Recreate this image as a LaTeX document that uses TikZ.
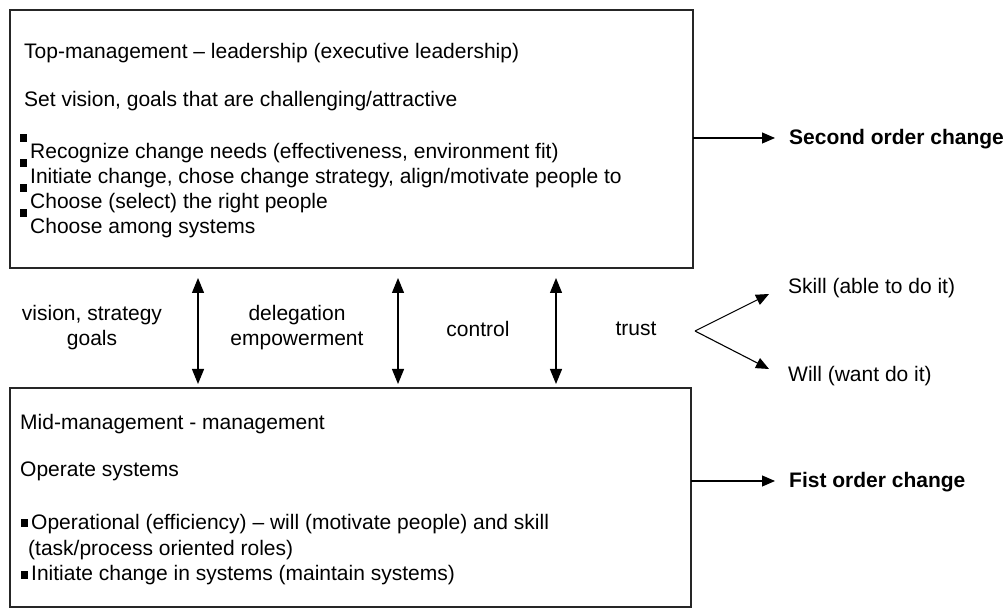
\documentclass[tikz,border=0pt]{standalone}
\usepackage{fontspec}
\setmainfont{Liberation Sans}
\usetikzlibrary{arrows.meta}
\begin{document}
\begin{tikzpicture}[x=1pt,y=-1pt,
  txt/.style={font=\fontsize{21}{25}\selectfont, inner sep=0pt, anchor=base west},
  ctxt/.style={font=\fontsize{21}{25}\selectfont, inner sep=0pt, align=center},
  btxt/.style={font=\fontsize{21}{25}\selectfont\bfseries, inner sep=0pt, anchor=base west},
  panel/.style={draw=black!85, line width=1.2pt, inner sep=0pt, outer sep=0pt, anchor=north west},
  sq/.style={fill=black, inner sep=0pt, minimum width=7pt, minimum height=8pt},
  dbl/.style={line width=1.2pt, {Triangle[length=15pt,width=12pt]}-{Triangle[length=15pt,width=12pt]}},
  one/.style={line width=1.1pt, -{Triangle[length=13pt,width=11pt]}}
]
\useasboundingbox (0,0) rectangle (1005,609);

% the two management levels
\node[panel, minimum width=683pt, minimum height=258pt] (top) at (10,10) {};
\node[panel, minimum width=681pt, minimum height=219pt] (mid) at (10,388) {};

% top-management text
\node[txt] (t1) at (24,59) {Top-management -- leadership (executive leadership)};
\node[txt] (t2) at (24,107) {Set vision, goals that are challenging/attractive};
\node[sq] (b1) at (23,138) {};
\node[sq] (b2) at (23,163) {};
\node[sq] (b3) at (23,188) {};
\node[sq] (b4) at (23,213) {};
\node[txt] (t3) at (30,159) {Recognize change needs (effectiveness, environment fit)};
\node[txt] (t4) at (30,184) {Initiate change, chose change strategy, align/motivate people to};
\node[txt] (t5) at (30,209) {Choose (select) the right people};
\node[txt] (t6) at (30,234) {Choose among systems};

% mid-management text
\node[txt] (m1) at (20,430) {Mid-management - management};
\node[txt] (m2) at (20,477) {Operate systems};
\node[sq] (c1) at (24,523) {};
\node[txt] (m3) at (31,530) {Operational (efficiency) -- will (motivate people) and skill};
\node[txt] (m4) at (28,556) {(task/process oriented roles)};
\node[sq] (c2) at (24,575) {};
\node[txt] (m5) at (31,581) {Initiate change in systems (maintain systems)};

% links between the levels
\coordinate (a1t) at (198,278); \coordinate (a1b) at (198,384);
\coordinate (a2t) at (398,278); \coordinate (a2b) at (398,384);
\coordinate (a3t) at (556,278); \coordinate (a3b) at (556,384);
\draw[dbl] (a1t) -- (a1b);
\draw[dbl] (a2t) -- (a2b);
\draw[dbl] (a3t) -- (a3b);
\node[ctxt] (l1) at (92,328) {vision, strategy\\goals};
\node[ctxt] (l2) at (297,328) {delegation\\empowerment};
\node[ctxt] (l3) at (478,329) {control};
\node[ctxt] (l4) at (636,329) {trust};

% trust splits into skill and will
\coordinate (tv) at (695,331);
\coordinate (sk) at (769,294);
\coordinate (wl) at (769,369);
\draw[one] (tv) -- (sk);
\draw[one] (tv) -- (wl);
\node[txt] (s1) at (788,294) {Skill (able to do it)};
\node[txt] (s2) at (788,382) {Will (want do it)};

% order of change
\coordinate (o2) at (775,138);
\coordinate (o1) at (775,481);
\draw[one] (top.east |- o2) -- (o2);
\draw[one] (mid.east |- o1) -- (o1);
\node[btxt] (r2) at (789,145) {Second order change};
\node[btxt] (r1) at (789,488) {Fist order change};
\end{tikzpicture}
\end{document}
